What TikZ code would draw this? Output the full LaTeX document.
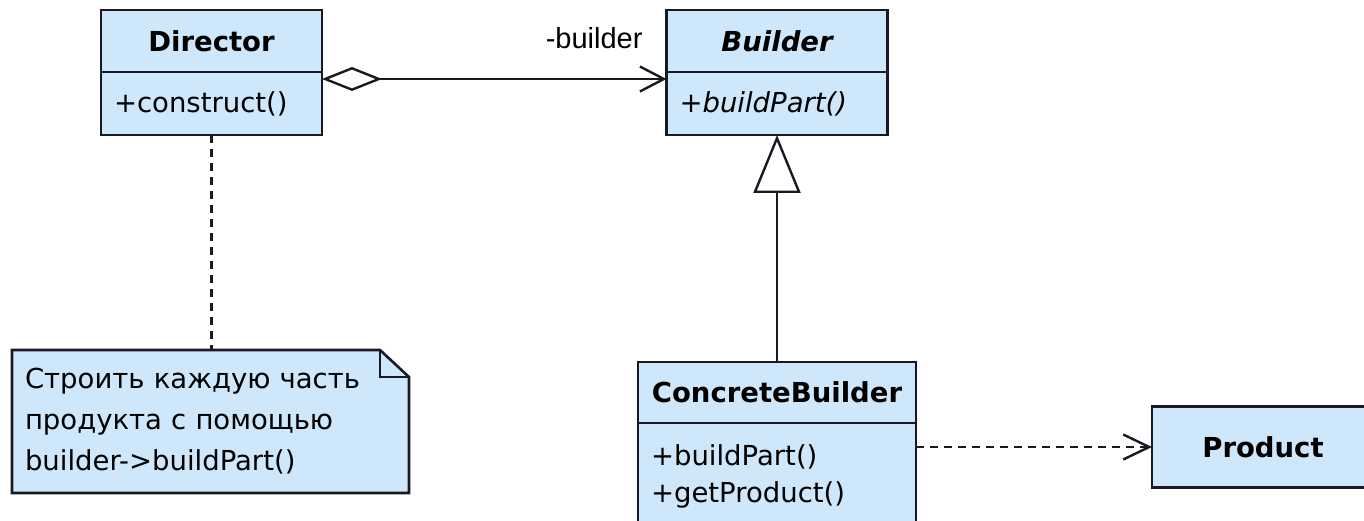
\documentclass[tikz,border=0pt]{standalone}
\usepackage{fontspec}
\setmainfont{DejaVu Sans}
\newfontfamily\labelfont{Liberation Sans}
\usetikzlibrary{positioning,calc,arrows.meta,backgrounds}

\definecolor{umlblue}{RGB}{206,231,251}
\definecolor{umlline}{RGB}{25,25,35}

\tikzset{
	classname/.style={draw=umlline, line width=2.6pt, fill=umlblue, outer sep=0pt, inner sep=0pt,
		font=\fontsize{27.5}{32}\selectfont\bfseries},
	classops/.style={draw=umlline, line width=2.6pt, fill=umlblue, outer sep=0pt, inner xsep=13pt, inner ysep=0pt,
		align=left, font=\fontsize{27.5}{37}\selectfont},
	notebox/.style={outer sep=0pt, inner xsep=13pt, inner ysep=0pt, align=left,
		font=\fontsize{27.5}{41}\selectfont},
	link/.style={draw=umlline, line width=2.4pt},
}

\begin{document}
\begin{tikzpicture}[x=1pt, y=-1pt]
	\useasboundingbox (0,0) rectangle (1364,521);
	\clip (0,0) rectangle (1364,521);
	% Director
	\node [classname, minimum width=221pt, minimum height=62pt] (directorName) at (211.5,41) {Director};
	\node [classops, text width=195pt, minimum height=63pt, below=0pt of directorName] (directorOps) {+construct()};
	% Builder
	\node [classname, minimum width=221pt, minimum height=62pt, font=\fontsize{27.5}{32}\selectfont\bfseries\itshape] (builderName) at (777,41) {Builder};
	\node [classops, text width=195pt, minimum height=63pt, below=0pt of builderName, font=\fontsize{27.5}{37}\selectfont\itshape] (builderOps) {+buildPart()};
	% ConcreteBuilder
	\node [classname, minimum width=278pt, minimum height=61pt] (concreteName) at (777,392.5) {ConcreteBuilder};
	\node [classops, text width=252pt, minimum height=106pt, below=0pt of concreteName] (concreteOps) {+buildPart()\\+getProduct()};
	% Product
	\node [classname, minimum width=222pt, minimum height=81pt] (product) at (1263,447) {Product};
	% Note
	\node [notebox, text width=371pt, minimum height=143pt] (note) at (210.5,421.5)
		{Строить каждую часть\\продукта с помощью\\builder->buildPart()};
	\begin{scope}[on background layer]
		\draw [link, line width=2.6pt, fill=umlblue] (note.north west) -- ($(note.north east)+(-29,0)$)
			-- ($(note.north east)+(0,27)$) -- (note.south east) -- (note.south west) -- cycle;
		\draw [link] ($(note.north east)+(-29,0)$) |- ($(note.north east)+(0,27)$);
	\end{scope}
	% Links
	\coordinate (aggStart) at ($(directorOps.north east)+(0,7)$);
	\draw [link, {Diamond[open, length=60pt, width=24pt]}-{Straight Barb[length=24pt, width=25pt, line width=2.4pt]}]
		(aggStart) -- (aggStart -| builderOps.west)
		node [pos=0.79, above=29pt, inner sep=0pt, font=\fontsize{29}{32}\labelfont] {-builder};
	\draw [link, -{Triangle[open, length=58pt, width=47pt]}] (concreteName.north) -- (builderOps.south);
	\draw [link, dash pattern=on 8pt off 6pt] (directorOps.south) -- (directorOps.south |- note.north);
	\draw [link, dash pattern=on 8pt off 6pt, -{Straight Barb[length=26pt, width=25pt, line width=2.4pt]}]
		(concreteOps.east |- product.west) -- (product.west);
\end{tikzpicture}
\end{document}
